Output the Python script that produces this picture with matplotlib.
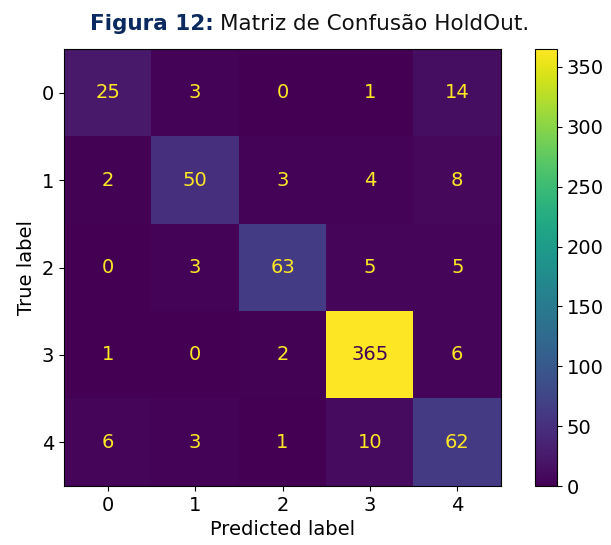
import matplotlib
matplotlib.use("Agg")
import matplotlib.pyplot as plt
import numpy as np

labels = ["0", "1", "2", "3", "4"]
cm = np.array([
    [25, 3, 0, 1, 14],
    [2, 50, 3, 4, 8],
    [0, 3, 63, 5, 5],
    [1, 0, 2, 365, 6],
    [6, 3, 1, 10, 62],
])

plt.rcParams['font.family'] = ['DejaVu Sans']
FS = 14
fig = plt.figure(figsize=(6.11, 5.45), dpi=100)
ax = fig.add_axes([64/611, 1-486/545, 437/611, 437/545])
cax = fig.add_axes([535/611, 1-486/545, 22/611, 437/545])

cmap = plt.get_cmap('viridis')
im = ax.imshow(cm, cmap=cmap, interpolation='nearest', aspect='auto')
vmin, vmax = cm.min(), cm.max()
thresh = (vmin + vmax) / 2.0
for i in range(cm.shape[0]):
    for j in range(cm.shape[1]):
        color = cmap(0.0) if cm[i, j] >= thresh else cmap(1.0)
        ax.text(j, i, str(cm[i, j]), ha='center', va='center', color=color, fontsize=FS)

ax.set_xticks(range(len(labels)))
ax.set_xticklabels(labels, fontsize=FS)
ax.set_yticks(range(len(labels)))
ax.set_yticklabels(labels, fontsize=FS)
ax.set_xlabel("Predicted label", fontsize=FS)
ax.set_ylabel("True label", fontsize=FS)

cb = fig.colorbar(im, cax=cax)
cb.set_ticks([0, 50, 100, 150, 200, 250, 300, 350])
cb.ax.tick_params(labelsize=FS)

t1 = fig.text(90/611, 1-24/545, "Figura 12:", fontsize=15.5, fontweight='bold',
              color='#0b2a5f', ha='left', va='center')
fig.canvas.draw()
bb = t1.get_window_extent()
fig.text((bb.x1 + 6)/611, 1-24/545, "Matriz de Confusão HoldOut.", fontsize=15.5,
         color='#111111', ha='left', va='center')

fig.savefig("out.png", dpi=100)
